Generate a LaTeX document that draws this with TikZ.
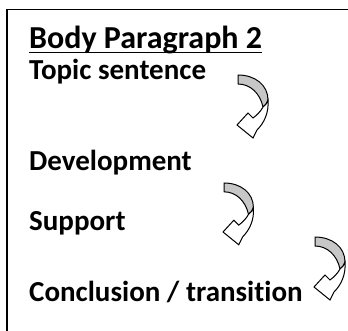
\documentclass[tikz,border=0pt]{standalone}
\usepackage{fontspec}
\setmainfont[Ligatures={NoCommon}]{Carlito}
\tikzset{
  lbl/.style={anchor=base west, inner sep=0pt, font=\fontsize{29}{35}\selectfont\bfseries},
  ttl/.style={lbl, font=\fontsize{32}{38}\selectfont\bfseries},
  ribbonback/.style={draw=black, line width=1pt, fill=black!22, line join=round},
  ribbonfront/.style={draw=black, line width=1pt, fill=white, line join=miter},
  frame/.style={draw=black, line width=1.5pt}
}
\newcommand{\curvarrow}[3]{%
  \begin{scope}[shift={(#1,#2)}, scale=#3]
    \path[ribbonback] (0,0) .. controls (17,0) and (30,10) .. (30,25)
      .. controls (29.5,28) and (27.5,30) .. (25,32)
      .. controls (22,18) and (12,9) .. (0,9) -- cycle;
    \path[ribbonfront] (30,25) .. controls (31,38) and (26,48) .. (19,55)
      -- (15,63) -- (-1,50) -- (10,38) -- (15,43)
      .. controls (19,40) and (23,36) .. (25,32)
      .. controls (27.5,30) and (29.5,28) .. (30,25) -- cycle;
  \end{scope}}
\begin{document}
\begin{tikzpicture}[x=1pt,y=-1pt]
\useasboundingbox (0,0) rectangle (348,331);
\clip (0,0) rectangle (348,331);
\draw[frame] (7,400) -- (7,9.5) -- (400,9.5);
\node[ttl] (title) at (29,49) {Body Paragraph 2};
\draw[line width=1.8pt] ([yshift=-3.5pt]title.base west) -- ([yshift=-3.5pt]title.base east);
\node[lbl] (topic) at (29,80) {Topic sentence};
\node[lbl] (dev) at (29,171) {Development};
\node[lbl] (sup) at (29,230) {Support};
\node[lbl] (conc) at (29,301) {Conclusion / transition};
\curvarrow{238}{75}{1.0}
\curvarrow{224}{183}{0.98}
\curvarrow{315}{237}{1.0}
\end{tikzpicture}
\end{document}
